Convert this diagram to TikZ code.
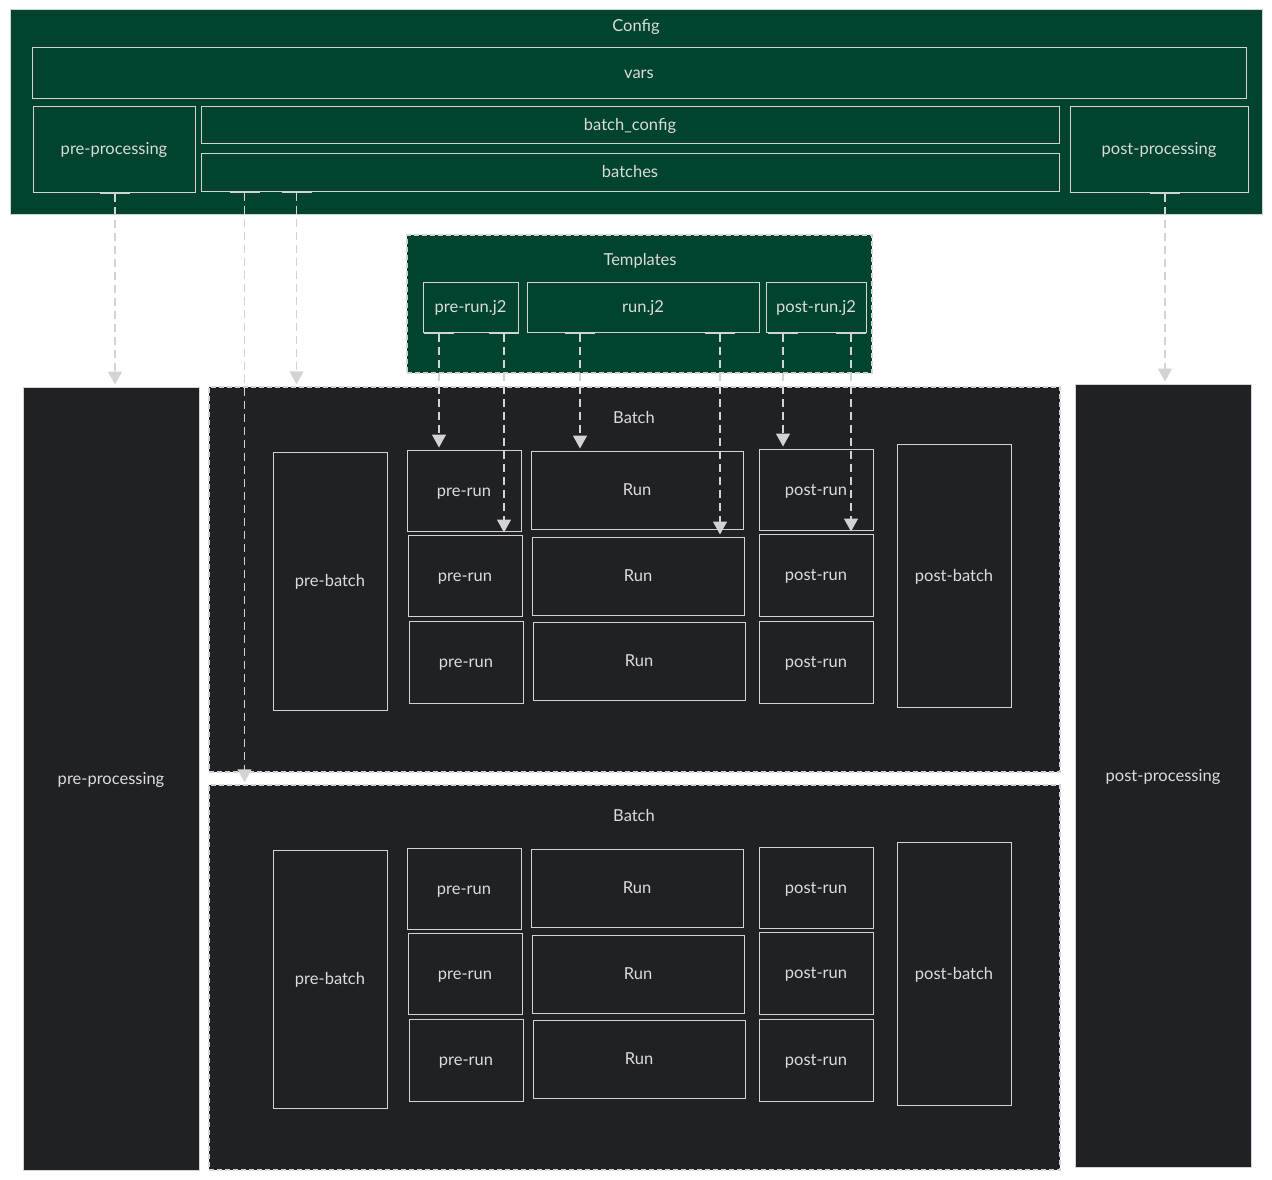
\documentclass[tikz,border=0pt]{standalone}
\usepackage{fontspec}
\setmainfont{Lato}
\usetikzlibrary{arrows.meta}
\definecolor{cfggreen}{HTML}{00432E}
\definecolor{darkbg}{HTML}{202124}
\definecolor{edgegray}{HTML}{D3D3D3}
\definecolor{txtgray}{HTML}{DCDCDC}

\begin{document}
\begin{tikzpicture}[x=1pt, y=-1pt,
    lbl/.style={text=txtgray, inner sep=0pt, text height=1.3em, text depth=0.2em, font=\fontsize{16.5}{19}\selectfont},
    box/.style={lbl, draw=edgegray, line width=1pt},
    grnbox/.style={box, fill=cfggreen},
    drkbox/.style={box, fill=darkbg},
    cluster/.style={box, line width=1.5pt, dash pattern=on 5pt off 3pt},
    dep/.style={draw=edgegray, line width=1.5pt, dash pattern=on 8pt off 5pt, shorten >=2pt,
        {Bar[width=30pt, line width=1.5pt]}-{Triangle[width=14pt, length=13pt]}}]
    \useasboundingbox[fill=white] (0,0) rectangle (1272,1180);

    \node[grnbox, minimum width=1252pt, minimum height=204pt] (config) at (636,112) {};
    \node[lbl] (configtitle) at (636,26) {Config};
    \node[grnbox, minimum width=1214pt, minimum height=51pt] (vars) at (639,73.5) {vars};
    \node[grnbox, minimum width=162pt, minimum height=85pt] (cfgpre) at (114,149.5) {pre-processing};
    \node[grnbox, minimum width=858pt, minimum height=37pt] (batchcfg) at (630,125.5) {batch\_config};
    \node[grnbox, minimum width=858pt, minimum height=37pt] (batches) at (630,172.5) {batches};
    \node[grnbox, minimum width=178pt, minimum height=85pt] (cfgpost) at (1159,149.5) {post-processing};

    \node[cluster, fill=cfggreen, minimum width=465pt, minimum height=138pt] (templates) at (639.5,304) {};
    \node[lbl] (templatestitle) at (640,260) {Templates};
    \node[grnbox, minimum width=95pt, minimum height=50pt] (tplpre) at (470.5,307) {pre-run.j2};
    \node[grnbox, minimum width=232pt, minimum height=50pt] (tplrun) at (643,307) {run.j2};
    \node[grnbox, minimum width=100pt, minimum height=50pt] (tplpost) at (816,307) {post-run.j2};

    \node[drkbox, minimum width=176pt, minimum height=783pt] (prep) at (111,778.5) {pre-processing};
    \node[drkbox, minimum width=176pt, minimum height=783pt] (postp) at (1163,775.5) {post-processing};

    \foreach \b/\dy in {1/0, 2/398} {
        \node[cluster, fill=darkbg, minimum width=851pt, minimum height=385pt] (batch\b) at (634.5,579.5+\dy) {};
        \node[lbl] (batchtitle\b) at (634,418+\dy) {Batch};
        \node[drkbox, minimum width=114pt, minimum height=258pt] (prebatch\b) at (330,581+\dy) {pre-batch};
        \node[drkbox, minimum width=114pt, minimum height=81pt] (prerun\b-1) at (464,490.5+\dy) {pre-run};
        \node[drkbox, minimum width=114pt, minimum height=81pt] (prerun\b-2) at (465,575.5+\dy) {pre-run};
        \node[drkbox, minimum width=114pt, minimum height=82pt] (prerun\b-3) at (466,662+\dy) {pre-run};
        \node[drkbox, minimum width=212pt, minimum height=78pt] (run\b-1) at (637,490+\dy) {Run};
        \node[drkbox, minimum width=212pt, minimum height=78pt] (run\b-2) at (638,576+\dy) {Run};
        \node[drkbox, minimum width=212pt, minimum height=78pt] (run\b-3) at (639,661+\dy) {Run};
        \node[drkbox, minimum width=114pt, minimum height=81pt] (postrun\b-1) at (816,489.5+\dy) {post-run};
        \node[drkbox, minimum width=114pt, minimum height=82pt] (postrun\b-2) at (816,575+\dy) {post-run};
        \node[drkbox, minimum width=114pt, minimum height=82pt] (postrun\b-3) at (816,662+\dy) {post-run};
        \node[drkbox, minimum width=114pt, minimum height=263pt] (postbatch\b) at (954,575.5+\dy) {post-batch};
    }

    \draw[dep] ([xshift=1pt]cfgpre.south) coordinate (e1) -- (e1 |- prep.north);
    \draw[dep] ([xshift=44pt]batches.south west) coordinate (e2) -- (e2 |- batch2.north);
    \draw[dep] ([xshift=96pt]batches.south west) coordinate (e3) -- (e3 |- batch1.north);
    \draw[dep] ([xshift=6pt]cfgpost.south) coordinate (e4) -- (e4 |- postp.north);

    \draw[dep] ([xshift=-31.5pt]tplpre.south) coordinate (t1) -- (t1 |- prerun1-1.north);
    \draw[dep] ([xshift=33.5pt]tplpre.south) coordinate (t2) -- (t2 |- prerun1-2.north);
    \draw[dep] ([xshift=-63pt]tplrun.south) coordinate (t3) -- (t3 |- run1-1.north);
    \draw[dep] ([xshift=77pt]tplrun.south) coordinate (t4) -- (t4 |- run1-2.north);
    \draw[dep] ([xshift=-33pt]tplpost.south) coordinate (t5) -- (t5 |- postrun1-1.north);
    \draw[dep] ([xshift=35pt]tplpost.south) coordinate (t6) -- (t6 |- postrun1-2.north);
\end{tikzpicture}
\end{document}
